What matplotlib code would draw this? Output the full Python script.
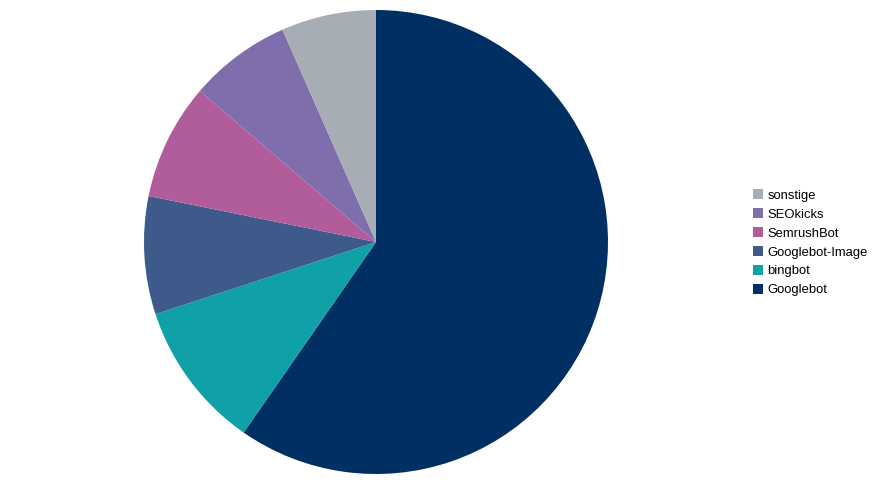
import matplotlib.pyplot as plt
from matplotlib.lines import Line2D

plt.rcParams['font.family'] = ['Liberation Sans', 'DejaVu Sans']

# Anteile der Crawler (in %), im Uhrzeigersinn ab 12 Uhr
labels = ['Googlebot', 'bingbot', 'Googlebot-Image', 'SemrushBot', 'SEOkicks', 'sonstige']
values = [59.6, 10.3, 8.2, 8.1, 7.1, 6.6]
colors = ['#003063', '#10a1a8', '#3d5a8a', '#b25d9b', '#7f6eab', '#a6adb5']

W, H = 879, 483
fig = plt.figure(figsize=(W / 100, H / 100), dpi=100)

cx, cy, r = 376, 242, 232
ax = fig.add_axes([(cx - r) / W, (H - cy - r) / H, 2 * r / W, 2 * r / H])
ax.pie(values, colors=colors, startangle=90, counterclock=False,
       wedgeprops=dict(linewidth=0))
ax.set_xlim(-1, 1)
ax.set_ylim(-1, 1)
ax.set_aspect('equal')
ax.axis('off')

# Legende in umgekehrter Reihenfolge
handles = [Line2D([], [], marker='s', linestyle='none', markersize=6.5,
                  markerfacecolor=c, markeredgewidth=0) for c in colors]
fig.legend(handles[::-1], labels[::-1], loc='center left',
           bbox_to_anchor=(748 / W, 1 - 243 / H), frameon=False,
           fontsize=9.4, handlelength=0.6, handletextpad=0.4,
           labelspacing=0.52, borderpad=0)

fig.savefig('out.png', dpi=100)
